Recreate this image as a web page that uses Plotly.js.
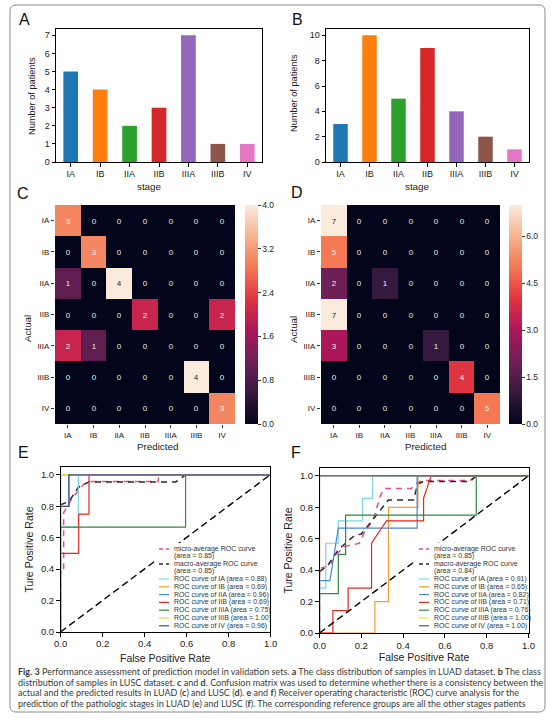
<!DOCTYPE html>
<html><head><meta charset="utf-8">
<script src="https://cdn.plot.ly/plotly-3.0.1.min.js"></script>
<style>html,body{margin:0;padding:0;background:#fff;}#chart{width:554px;height:723px;}</style>
</head><body><div id="chart"></div>
<script>
// ---------------- DATA ----------------
const stages = ['IA','IB','IIA','IIB','IIIA','IIIB','IV'];
const luadCounts = [5,4,2,3,7,1,1];
const luscCounts = [3,10,5,9,4,2,1];
const barColors = ['#1f77b4','#ff7f0e','#2ca02c','#d62728','#9467bd','#8c564b','#e377c2'];

const cmLUAD = [
  [3,0,0,0,0,0,0],
  [0,3,0,0,0,0,0],
  [1,0,4,0,0,0,0],
  [0,0,0,2,0,0,2],
  [2,1,0,0,0,0,0],
  [0,0,0,0,0,4,0],
  [0,0,0,0,0,0,3]
];
const cmLUSC = [
  [7,0,0,0,0,0,0],
  [5,0,0,0,0,0,0],
  [2,0,1,0,0,0,0],
  [7,0,0,0,0,0,0],
  [3,0,0,0,1,0,0],
  [0,0,0,0,0,4,0],
  [0,0,0,0,0,0,5]
];
const cbTicksC = [0,0.8,1.6,2.4,3.2,4.0];
const cbTicksD = [0,1.5,3.0,4.5,6.0];
const rocTicks = [0,0.2,0.4,0.6,0.8,1.0];

const rocColors = ['#7fd4e2','#f59a2c','#4a88cc','#e0281f','#2e8b3c','#f0de2a','#43529f'];
const microColor = '#e24f93';
const macroColor = '#2a2a2a';

// LUAD ROC (panel E)
const aucE = [0.88,0.69,0.96,0.69,0.75,1.00,0.96];
const microAucE = 0.85, macroAucE = 0.85;
const fprE_IA = [0,0,0.085,0.085,1],           tprE_IA = [0,0.667,0.667,1,1];
const fprE_IB = [0,0,1],                         tprE_IB = [0,1,1];
const fprE_IIA = [0,0,0.04,0.04,1],              tprE_IIA = [0,0.8,0.8,1,1];
const fprE_IIB = [0,0,0.087,0.087,0.136,0.136,1], tprE_IIB = [0,0.5,0.5,0.75,0.75,1,1];
const fprE_IIIA = [0,0,0.597,0.597,1],           tprE_IIIA = [0,0.667,0.667,1,1];
const fprE_IIIB = [0,0,1],                       tprE_IIIB = [0,1,1];
const fprE_IV = [0,0,0.04,0.04,1],               tprE_IV = [0,0.8,0.8,1,1];
const fprE_micro = [0,0,0.015,0.015,0.055,0.11,0.14,0.467,0.467,1];
const tprE_micro = [0,0.38,0.38,0.76,0.85,0.94,0.957,0.957,1,1];
const fprE_macro = [0,0.04,0.085,0.136,0.55,0.597,1];
const tprE_macro = [0.81,0.83,0.92,0.955,0.955,1,1];

// LUSC ROC (panel F)
const aucF = [0.91,0.65,0.82,0.71,0.76,1.00,1.00];
const microAucF = 0.85, macroAucF = 0.84;
const fprF_IA = [0,0,0.03,0.03,0.09,0.09,0.206,0.206,0.254,0.254,1];
const tprF_IA = [0,0.286,0.286,0.571,0.571,0.714,0.714,0.857,0.857,1,1];
const fprF_IB = [0,0.265,0.265,0.33,0.33,0.471,0.471,1];
const tprF_IB = [0,0,0.2,0.2,0.8,0.8,1,1];
const fprF_IIA = [0,0,0.05,0.09,0.467,0.467,1];
const tprF_IIA = [0,0.333,0.333,0.667,0.667,1,1];
const fprF_IIB = [0,0.064,0.064,0.137,0.137,0.249,0.249,0.32,0.498,0.498,0.534,1];
const tprF_IIB = [0,0,0.143,0.143,0.286,0.286,0.571,0.714,0.714,0.857,1,1];
const fprF_IIIA = [0,0,0.09,0.09,0.125,0.125,0.75,0.75,1];
const tprF_IIIA = [0,0.25,0.25,0.5,0.5,0.75,0.75,1,1];
const fprF_IIIB = [0,0,1], tprF_IIIB = [0,1,1];
const fprF_IV = [0,0,1],   tprF_IV = [0,1,1];
const fprF_micro = [0,0,0.05,0.08,0.12,0.19,0.215,0.26,0.29,0.31,0.44,0.47,0.5,0.72,0.75,1];
const tprF_micro = [0,0.41,0.43,0.5,0.55,0.571,0.64,0.73,0.87,0.92,0.92,0.96,0.97,0.97,1,1];
const fprF_macro = [0,0.04,0.09,0.167,0.2,0.255,0.304,0.33,0.45,0.47,0.5,0.72,0.75,1];
const tprF_macro = [0.39,0.43,0.53,0.62,0.63,0.72,0.8,0.847,0.847,0.95,0.964,0.964,1,1];
const diagX = [0,1], diagY = [0,1];

const captionLines = [
  '<b>Fig. 3</b> Performance assessment of prediction model in validation sets. <b>a</b> The class distribution of samples in LUAD dataset. <b>b</b> The class',
  'distribution of samples in LUSC dataset. <b>c</b> and <b>d</b>. Confusion matrix was used to determine whether there is a consistency between the',
  'actual and the predicted results in LUAD (<b>c</b>) and LUSC (<b>d</b>). <b>e</b> and <b>f</b>) Receiver operating characteristic (ROC) curve analysis for the',
  'prediction of the pathologic stages in LUAD (<b>e</b>) and LUSC (<b>f</b>). The corresponding reference groups are all the other stages patients'
];

// ---------------- HELPERS ----------------
const W = 554, H = 723;
const PX = v => v / W;
const PY = v => 1 - v / H;
const FONT = '"Liberation Sans", Arial, sans-serif';
const TXT = '#222';
const rocket = [
  [0.0,'#03051a'],[0.14,'#35193e'],[0.29,'#701f57'],[0.43,'#ad1759'],
  [0.57,'#e13342'],[0.71,'#f37651'],[0.86,'#f6b48f'],[1.0,'#faebdd']
];

const traces = [];
traces.push({type:'bar', x:stages, y:luadCounts, marker:{color:barColors}, width:0.5, xaxis:'x', yaxis:'y', showlegend:false, hoverinfo:'skip'});
traces.push({type:'bar', x:stages, y:luscCounts, marker:{color:barColors}, width:0.5, xaxis:'x2', yaxis:'y2', showlegend:false, hoverinfo:'skip'});

function heatPair(mat, zmax, xa, ya, cbx, ticks) {
  const darkTxt = mat.map(r => r.map(v => v/zmax > 0.85 ? String(v) : ''));
  const lightTxt = mat.map(r => r.map(v => v/zmax > 0.85 ? '' : String(v)));
  traces.push({type:'heatmap', z:mat, x:stages, y:stages, zmin:0, zmax:zmax, colorscale:rocket,
    xaxis:xa, yaxis:ya, hoverinfo:'skip', showscale:true,
    text:darkTxt, texttemplate:'%{text}', textfont:{color:'#262626', size:8, family:FONT},
    colorbar:{thickness:13, thicknessmode:'pixels', len:(424-205)/H, lenmode:'fraction',
      x:PX(cbx), xanchor:'left', xpad:0, y:PY(205), yanchor:'top', ypad:0,
      outlinewidth:0, ticks:'outside', ticklen:3, tickcolor:'#333', tickwidth:1,
      tickvals:ticks, tickformat:'.1f', tickfont:{size:8.5, color:TXT, family:FONT}}});
  traces.push({type:'heatmap', z:mat, x:stages, y:stages, zmin:0, zmax:zmax,
    colorscale:[[0,'rgba(0,0,0,0)'],[1,'rgba(0,0,0,0)']], showscale:false,
    xaxis:xa, yaxis:ya, hoverinfo:'skip',
    text:lightTxt, texttemplate:'%{text}', textfont:{color:'#eeeeee', size:8, family:FONT}});
}
heatPair(cmLUAD, 4, 'x3', 'y3', 245, cbTicksC);
heatPair(cmLUSC, 7, 'x4', 'y4', 509, cbTicksD);

function rocTraces(xa, ya, fm, tm, fM, tM, cls) {
  traces.push({type:'scatter', mode:'lines', x:fm, y:tm, line:{color:microColor, width:1.5, dash:'6px,5px'}, xaxis:xa, yaxis:ya, showlegend:false, hoverinfo:'skip'});
  traces.push({type:'scatter', mode:'lines', x:fM, y:tM, line:{color:macroColor, width:1.5, dash:'6px,5px'}, xaxis:xa, yaxis:ya, showlegend:false, hoverinfo:'skip'});
  cls.forEach((c,i)=>traces.push({type:'scatter', mode:'lines', x:c[0], y:c[1], line:{color:rocColors[i], width:1.2}, xaxis:xa, yaxis:ya, showlegend:false, hoverinfo:'skip'}));
  traces.push({type:'scatter', mode:'lines', x:diagX, y:diagY, line:{color:'#000', width:1.4, dash:'7px,4px'}, xaxis:xa, yaxis:ya, showlegend:false, hoverinfo:'skip'});
}
rocTraces('x5','y5', fprE_micro, tprE_micro, fprE_macro, tprE_macro,
  [[fprE_IA,tprE_IA],[fprE_IB,tprE_IB],[fprE_IIA,tprE_IIA],[fprE_IIB,tprE_IIB],[fprE_IIIA,tprE_IIIA],[fprE_IIIB,tprE_IIIB],[fprE_IV,tprE_IV]]);
rocTraces('x6','y6', fprF_micro, tprF_micro, fprF_macro, tprF_macro,
  [[fprF_IA,tprF_IA],[fprF_IB,tprF_IB],[fprF_IIA,tprF_IIA],[fprF_IIB,tprF_IIB],[fprF_IIIA,tprF_IIIA],[fprF_IIIB,tprF_IIIB],[fprF_IV,tprF_IV]]);

// ---------------- AXES ----------------
const tickF = s => ({size:s, color:TXT, family:FONT});
function frameAx(x0, x1, extra) {
  return Object.assign({domain:[x0, x1], showline:true, mirror:true, linecolor:'#000', linewidth:1,
    ticks:'outside', ticklen:3.5, tickwidth:1, tickcolor:'#000', showgrid:false, zeroline:false,
    fixedrange:true, tickfont:tickF(9)}, extra);
}
function heatAx(x0, x1, extra) {
  return Object.assign({domain:[x0, x1], showline:false, ticks:'outside', ticklen:3, tickwidth:1,
    tickcolor:'#333', showgrid:false, zeroline:false, fixedrange:true, type:'category', tickfont:tickF(8)}, extra);
}
const rocX = t => ({range:[0,1], tickvals:rocTicks, tickformat:'.1f', tickfont:tickF(9.5),
  title:{text:t, font:tickF(10.5), standoff:3}});
const rocY = t => ({range:[0,1.05], tickvals:rocTicks, tickformat:'.1f', tickfont:tickF(9.5),
  title:{text:t, font:tickF(10.5), standoff:5}});
const layout = {
  width:W, height:H, margin:{l:0,r:0,t:0,b:0}, paper_bgcolor:'#fff', plot_bgcolor:'#fff',
  showlegend:false, font:{family:FONT, color:TXT},
  xaxis: frameAx(PX(56), PX(262), {anchor:'y', type:'category', range:[-0.5,6.5]}),
  yaxis: frameAx(PY(162), PY(29), {anchor:'x', range:[0,7.35], dtick:1}),
  xaxis2: frameAx(PX(326), PX(529), {anchor:'y2', type:'category', range:[-0.5,6.5]}),
  yaxis2: frameAx(PY(162), PY(29), {anchor:'x2', range:[0,10.5], dtick:2}),
  xaxis3: heatAx(PX(55), PX(235), {anchor:'y3'}),
  yaxis3: heatAx(PY(424), PY(205), {anchor:'x3', autorange:'reversed'}),
  xaxis4: heatAx(PX(321), PX(500), {anchor:'y4'}),
  yaxis4: heatAx(PY(424), PY(205), {anchor:'x4', autorange:'reversed'}),
  // panel E: tick labels and title placed through the axis scale as annotations
  xaxis5: frameAx(PX(60.5), PX(270), {anchor:'y5', range:[0,1], tickvals:rocTicks, showticklabels:false}),
  yaxis5: frameAx(PY(632), PY(467), Object.assign({anchor:'x5'}, rocY('Ture Positive Rate'))),
  xaxis6: frameAx(PX(319.5), PX(528.5), Object.assign({anchor:'y6'}, rocX('False Positive Rate'))),
  yaxis6: frameAx(PY(633), PY(468), Object.assign({anchor:'x6'}, rocY('Ture Positive Rate'))),
  annotations: [], shapes: []
};

function ann(text, x, y, o) {
  layout.annotations.push(Object.assign({text:text, x:PX(x), y:PY(y), xref:'paper', yref:'paper',
    showarrow:false, xanchor:'center', yanchor:'middle', font:{size:9, color:TXT, family:FONT}}, o||{}));
}
// E x tick labels via the x5 scale
rocTicks.forEach(v => layout.annotations.push({text:v.toFixed(1), x:v, xref:'x5', y:PY(636), yref:'paper',
  showarrow:false, xanchor:'center', yanchor:'top', font:tickF(9.5)}));

[['A',24,19],['B',297,19],['C',23,194],['D',297,193],['E',23,452],['F',296,452]].forEach(l =>
  ann(l[0], l[1], l[2], {font:{size:16, color:'#111', family:FONT}}));
const tf = s => ({size:s, color:TXT, family:FONT});
ann('Number of patients', 32, 96, {textangle:-90, font:tf(9.2)});
ann('stage', 149, 187, {font:tf(9.8)});
ann('Number of patients', 294, 93, {textangle:-90, font:tf(9.2)});
ann('stage', 417, 187, {font:tf(9.8)});
ann('Actual', 28, 328, {textangle:-90, font:tf(9.8)});
ann('Predicted', 157, 446, {font:tf(9.8)});
ann('Actual', 294, 330, {textangle:-90, font:tf(9.8)});
ann('Predicted', 425, 446, {font:tf(9.8)});
ann('False Positive Rate', 165, 658, {font:tf(10.5)});

captionLines.forEach((t,i)=> ann(t, 16, 671.7 + i*10.6, {xanchor:'left', font:{size:9, color:'#3a3a3a', family:'Lato, "Liberation Sans", sans-serif'}}));

(function(){
  const x0=10, x1=545, y0=5, y1=712, r=6;
  const p = (x,y)=> PX(x)+','+PY(y);
  layout.shapes.push({type:'path', xref:'paper', yref:'paper', layer:'above',
    path:'M'+p(x0+r,y0)+' L'+p(x1-r,y0)+' Q'+p(x1,y0)+' '+p(x1,y0+r)+' L'+p(x1,y1-r)+' Q'+p(x1,y1)+' '+p(x1-r,y1)+
         ' L'+p(x0+r,y1)+' Q'+p(x0,y1)+' '+p(x0,y1-r)+' L'+p(x0,y0+r)+' Q'+p(x0,y0)+' '+p(x0+r,y0)+' Z',
    line:{color:'#8a8a8a', width:1}});
})();

function rocLegend(textX, bgX0, bgX1, top, bottom, microAuc, macroAuc, aucs) {
  layout.shapes.push({type:'rect', xref:'paper', yref:'paper', layer:'above', x0:PX(bgX0), x1:PX(bgX1), y0:PY(bottom), y1:PY(top), fillcolor:'#fff', line:{width:0}});
  const entries = [
    {lines:['micro-average ROC curve','(area = '+microAuc.toFixed(2)+')'], color:microColor, dash:'dash'},
    {lines:['macro-average ROC curve','(area = '+macroAuc.toFixed(2)+')'], color:macroColor, dash:'dash'}
  ].concat(stages.map((s,i)=>({lines:['ROC curve of '+s+' (area = '+aucs[i].toFixed(2)+')'], color:rocColors[i], dash:'solid'})));
  let y = top + 6;
  const lineH = 7.2, pad = 0.6;
  entries.forEach(e=>{
    layout.shapes.push({type:'line', xref:'paper', yref:'paper', layer:'above', x0:PX(textX-13), x1:PX(textX-3), y0:PY(y), y1:PY(y),
      line:{color:e.color, width:e.dash==='dash'?1.5:1.2, dash:e.dash==='dash'?'4px,3px':'solid'}});
    e.lines.forEach((t,k)=> ann(t, textX, y + k*lineH, {xanchor:'left', font:{size:7, color:'#333', family:FONT}}));
    y += e.lines.length*lineH + pad;
  });
}
rocLegend(172, 156, 269, 543, 631, microAucE, macroAucE, aucE);
rocLegend(432, 416, 527, 543, 632, microAucF, macroAucF, aucF);

Plotly.newPlot('chart', traces, layout, {staticPlot:true, displayModeBar:false});
</script>
</body></html>
